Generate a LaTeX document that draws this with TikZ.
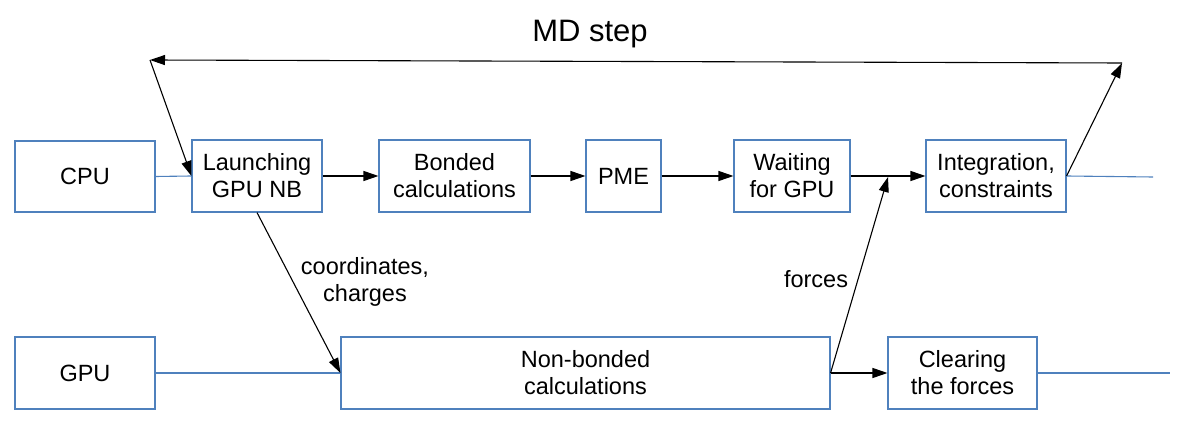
\documentclass[tikz,border=0pt]{standalone}
\usepackage{fontspec}
\setmainfont{Liberation Sans}
\usetikzlibrary{arrows.meta}
\definecolor{boxblue}{RGB}{79,129,189}
\begin{document}
\begin{tikzpicture}[x=1pt,y=-1pt,
  box/.style={draw=boxblue,line width=1.1pt,fill=white,inner sep=0pt,align=center,
    font=\fontsize{23.5}{27}\selectfont},
  blue line/.style={draw=boxblue,line width=1.1pt},
  arr/.style={draw=black,line width=1.1pt,-{Triangle[length=15pt,width=10pt]}},
  lbl/.style={font=\fontsize{23.5}{27}\selectfont,align=center,inner sep=0pt}]
\useasboundingbox (0,0) rectangle (1177,427);
% boxes
\node[box,minimum width=140pt,minimum height=71pt] (cpu) at (85,176.5) {CPU};
\node[box,minimum width=130pt,minimum height=72pt] (launch) at (257,176) {Launching\\GPU NB};
\node[box,minimum width=151pt,minimum height=72pt] (bonded) at (454.5,176) {Bonded\\calculations};
\node[box,minimum width=75pt,minimum height=72pt] (pme) at (623.5,176) {PME};
\node[box,minimum width=116pt,minimum height=72pt] (wait) at (792,176) {Waiting\\for GPU};
\node[box,minimum width=140pt,minimum height=72pt] (integ) at (996,176) {Integration,\\constraints};
\node[box,minimum width=140pt,minimum height=72pt] (gpu) at (85,373) {GPU};
\node[box,minimum width=489pt,minimum height=72pt] (nonb) at (585.5,373) {Non-bonded\\calculations};
\node[box,minimum width=149pt,minimum height=72pt] (clear) at (962.5,373) {Clearing\\the forces};
% coordinates
\coordinate (cpuend) at (1153,177);
\coordinate (gpuend) at (1170,373);
\coordinate (merge) at (888,177);
\coordinate (tr) at (1122,63);
\coordinate (tl) at (150,60);
% blue lines
\draw[blue line] (cpu.east) -- (launch.west);
\draw[blue line] (integ.east) -- (cpuend);
\draw[blue line] (gpu.east) -- (nonb.west);
\draw[blue line] (clear.east) -- (gpuend);
% arrows
\draw[arr] (launch.east) -- (bonded.west);
\draw[arr] (bonded.east) -- (pme.west);
\draw[arr] (pme.east) -- (wait.west);
\draw[arr] (wait.east) -- (integ.west);
\draw[arr] (nonb.east) -- (clear.west);
\draw[arr] (launch.south) -- (nonb.west);
\draw[arr] (nonb.east) -- (merge);
\draw[arr] (integ.east) -- (tr);
\draw[arr] (tr) -- (tl);
\draw[arr] (tl) -- (launch.west);
% labels
\node[font=\fontsize{31}{36}\selectfont,inner sep=0pt] (md) at (590,34) {MD step};
\node[lbl] (coord) at (365,282) {coordinates,\\charges};
\node[lbl] (forces) at (816,279) {forces};
\end{tikzpicture}
\end{document}
